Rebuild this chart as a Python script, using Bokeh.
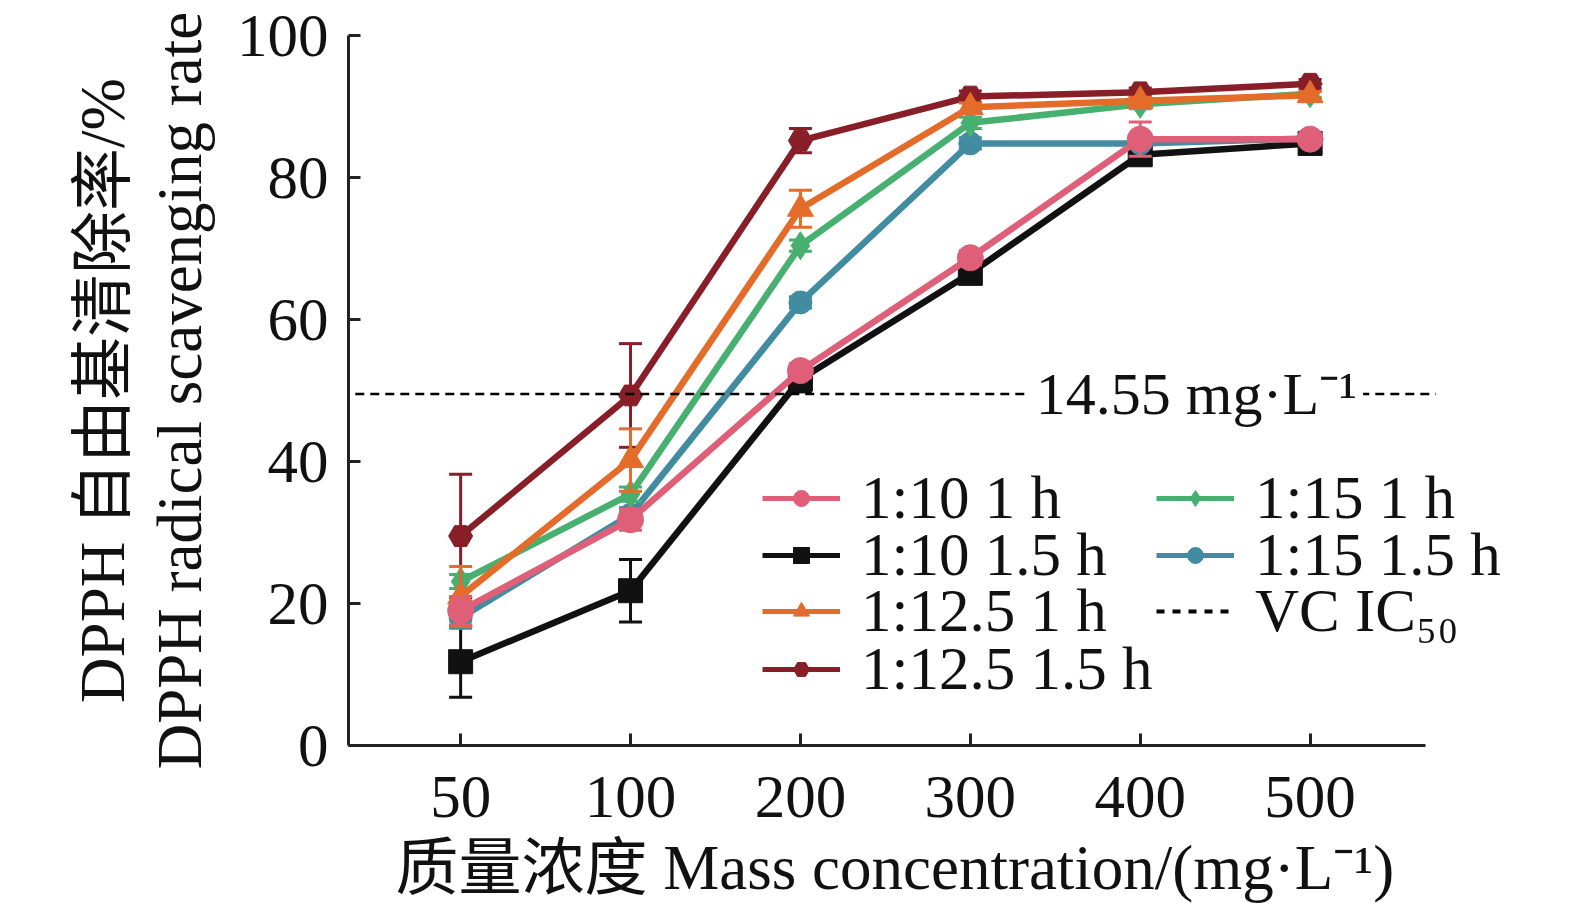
from bokeh.plotting import figure
from bokeh.models import Range1d, FixedTicker, LinearAxis, Legend, LegendItem, Label, Title
from bokeh.embed import file_html
from bokeh.resources import INLINE

conc = ["50", "100", "200", "300", "400", "500"]

r10_1h = [19.0, 31.8, 52.8, 68.7, 85.4, 85.4]
r10_1h_err = [2.0, 1.5, 1.0, 1.0, 2.4, 0.8]
r10_15h = [11.8, 21.8, 51.6, 66.5, 83.2, 84.8]
r10_15h_err = [5.0, 4.4, 1.8, 0.8, 1.0, 0.6]
r125_1h = [21.0, 40.2, 75.6, 89.9, 90.8, 91.6]
r125_1h_err = [4.2, 4.4, 2.6, 0.6, 0.5, 0.5]
r125_15h = [29.5, 49.3, 85.2, 91.4, 92.0, 93.2]
r125_15h_err = [8.7, 7.3, 1.7, 0.8, 0.6, 0.6]
r15_1h = [23.1, 35.4, 70.4, 87.7, 90.3, 91.8]
r15_1h_err = [1.0, 1.0, 0.8, 0.8, 0.6, 0.5]
r15_15h = [18.0, 32.5, 62.4, 84.8, 84.8, 85.5]
r15_15h_err = [1.5, 1.0, 0.8, 0.8, 0.5, 0.5]

ic50 = 49.5
ic50_label = "14.55 mg·L⁻¹"

FONT = "Liberation Serif, Noto Sans CJK SC"
x = list(range(len(conc)))
nan = float("nan")

# the frame runs past the end of the x axis so the legend is not clipped
p = figure(frame_width=1192, frame_height=710,
           min_border_left=348, min_border_top=35, min_border_right=10, min_border_bottom=150,
           x_range=Range1d(-0.66, 6.356), y_range=Range1d(0, 100),
           output_backend="svg", toolbar_location=None)
p.grid.visible = False
p.outline_line_color = None
p.background_fill_color = "white"

for ax in (p.xaxis[0], p.yaxis[0]):
    ax.axis_line_width = 3
    ax.axis_line_color = "#222222"
    ax.major_tick_line_width = 3
    ax.major_tick_line_color = "#222222"
    ax.major_tick_in = 12
    ax.major_tick_out = 0
    ax.minor_tick_line_color = None
    ax.major_label_text_font = FONT
    ax.major_label_text_font_size = "61px"
    ax.major_label_text_color = "#111111"
    ax.axis_label_text_font = FONT
    ax.axis_label_text_font_size = "63px"
    ax.axis_label_text_font_style = "normal"
    ax.axis_label_text_color = "#111111"

p.xaxis.bounds = (-0.66, 5.68)
p.xaxis.ticker = FixedTicker(ticks=x)
p.xaxis.major_label_overrides = {i: c for i, c in enumerate(conc)}
p.xaxis.major_label_standoff = 31

p.add_layout(Title(text="质量浓度 Mass concentration/(mg·L⁻¹)", align="left", offset=47,
                   text_font=FONT, text_font_size="63px", text_font_style="normal",
                   text_color="#111111", standoff=22), "below")

p.yaxis.ticker = FixedTicker(ticks=[0, 20, 40, 60, 80, 100])
p.yaxis.major_label_standoff = 20
p.yaxis.axis_label = "DPPH radical scavenging rate"
p.yaxis.axis_label_standoff = 19

outer = LinearAxis(ticker=FixedTicker(ticks=[]), axis_line_color=None,
                   major_tick_line_color=None, minor_tick_line_color=None,
                   axis_label="DPPH 自由基清除率/%", axis_label_text_font=FONT,
                   axis_label_text_font_size="63px", axis_label_text_font_style="normal",
                   axis_label_text_color="#111111", axis_label_standoff=4)
p.add_layout(outer, "left")

series = [
    ("1:10 1.5 h", r10_15h, r10_15h_err, "#111111", "square", 24, 15),
    ("1:15 1.5 h", r15_15h, r15_15h_err, "#418CA0", "circle", 23, 17),
    ("1:15 1 h", r15_1h, r15_1h_err, "#47B070", "diamond", 28, 22),
    ("1:12.5 1.5 h", r125_15h, r125_15h_err, "#871E28", "hex", 24, 17),
    ("1:12.5 1 h", r125_1h, r125_1h_err, "#E46C2A", "triangle", 26, 20),
    ("1:10 1 h", r10_1h, r10_1h_err, "#DF5F78", "circle", 26, 17),
]

proxies = {}
for name, vals, err, color, marker, size, lsize in series:
    up = [v + e for v, e in zip(vals, err)]
    lo = [v - e for v, e in zip(vals, err)]
    p.segment(x, lo, x, up, line_color=color, line_width=3)
    p.scatter(x, up, marker="dash", size=23, line_color=color, line_width=3)
    p.scatter(x, lo, marker="dash", size=23, line_color=color, line_width=3)
    p.line(x, vals, line_color=color, line_width=6.5)
    p.scatter(x, vals, marker=marker, size=size, fill_color=color, line_color=color)
    # smaller copies (not drawn in the plot) that only feed the legend
    ln = p.line([nan], [nan], line_color=color, line_width=5)
    sc = p.scatter([nan], [nan], marker=marker, size=lsize, fill_color=color, line_color=color)
    proxies[name] = [ln, sc]

p.line([p.x_range.start + 0.04, 5.74], [ic50, ic50],
       line_color="black", line_width=2.5, line_dash="9 6")
proxies["VC IC₅₀"] = [p.line([nan], [nan], line_color="black", line_width=4, line_dash="8 8")]

lab = Label(x=3.35, y=ic50, text=ic50_label, text_font=FONT, text_font_size="60px",
            text_color="#111111", text_baseline="middle", text_align="left",
            background_fill_color="white", padding=6)
p.add_layout(lab)

# legend: two columns, one small legend per row so the rows sit as tight as the reference
legend_pos = [
    ("1:10 1 h", 414, 212), ("1:10 1.5 h", 414, 155),
    ("1:12.5 1 h", 414, 99), ("1:12.5 1.5 h", 414, 41),
    ("1:15 1 h", 808, 212), ("1:15 1.5 h", 808, 155), ("VC IC₅₀", 808, 99),
]
for name, lx, ly in legend_pos:
    lg = Legend(items=[LegendItem(label=name, renderers=proxies[name])], location=(lx, ly),
                label_text_font=FONT, label_text_font_size="61px", label_text_color="#111111",
                glyph_width=78, glyph_height=40, label_height=40, label_standoff=21,
                padding=0, margin=0, border_line_color=None, background_fill_alpha=0)
    p.add_layout(lg, "center")

open("out.html", "w").write(file_html(p, INLINE))
